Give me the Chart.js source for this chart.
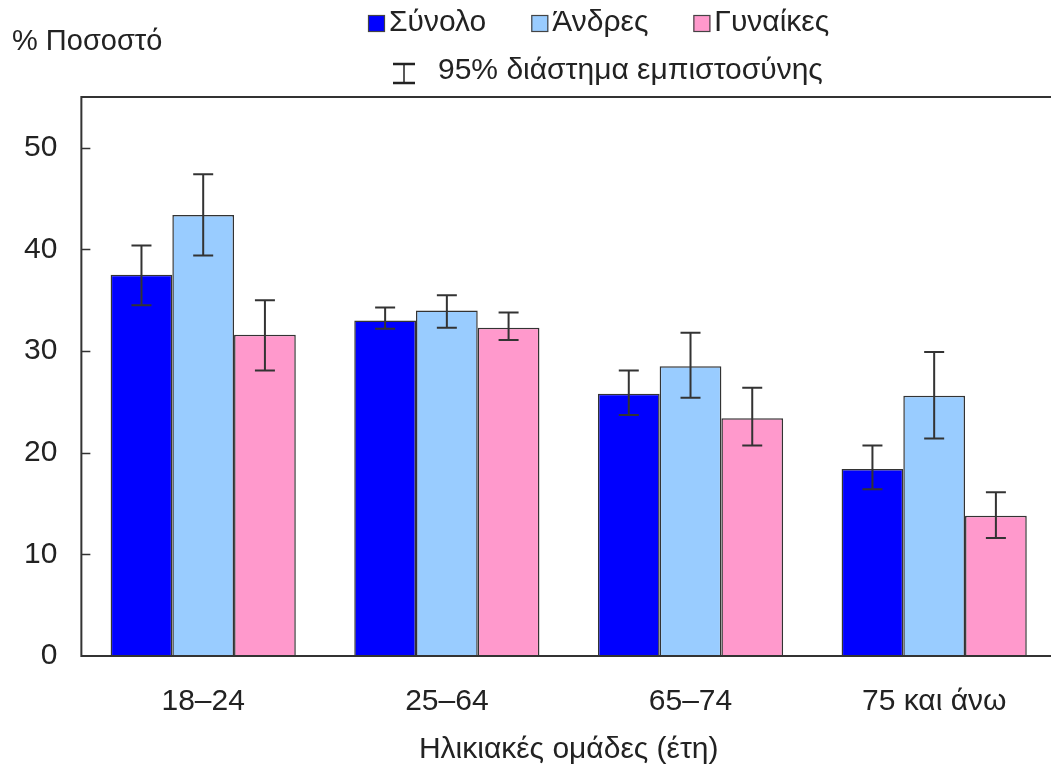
<!DOCTYPE html>
<html>
<head>
<meta charset="utf-8">
<script src="https://cdn.jsdelivr.net/npm/chart.js@4"></script>
<style>
  html, body { margin: 0; padding: 0; background: #fff; overflow: hidden; }
  #wrap { width: 1058px; height: 774px; }
</style>
</head>
<body>
<div id="wrap"><canvas id="chart" width="1058" height="774"></canvas></div>
<script>
const categories = ['18–24', '25–64', '65–74', '75 και άνω'];
const seriesNames = ['Σύνολο', 'Άνδρες', 'Γυναίκες'];
const seriesColors = ['#0000ff', '#99ccff', '#ff99cc'];

// values (%) and 95% CI bounds
const totalValues = [37.5, 33.0, 25.8, 18.4];
const totalLow = [34.5, 32.2, 23.7, 16.4];
const totalHigh = [40.4, 34.3, 28.1, 20.7];

const menValues = [43.4, 34.0, 28.5, 25.6];
const menLow = [39.4, 32.3, 25.4, 21.4];
const menHigh = [47.4, 35.5, 31.8, 29.9];

const womenValues = [31.6, 32.3, 23.4, 13.8];
const womenLow = [28.1, 31.1, 20.7, 11.6];
const womenHigh = [35.0, 33.8, 26.4, 16.1];

const yTicks = [0, 10, 20, 30, 40, 50];

const FONT = '"Liberation Sans", Arial, sans-serif';
const TEXT = '#222';

const lows = [totalLow, menLow, womenLow];
const highs = [totalHigh, menHigh, womenHigh];

// error bars, frame, inward ticks, legend, y title
const extras = {
  id: 'extras',
  afterDatasetsDraw(chart) {
    const ctx = chart.ctx;
    const y = chart.scales.y;
    ctx.save();
    ctx.strokeStyle = '#333';
    ctx.lineWidth = 2;
    chart.data.datasets.forEach((ds, i) => {
      const meta = chart.getDatasetMeta(i);
      meta.data.forEach((bar, j) => {
        const top = y.getPixelForValue(highs[i][j]);
        const bot = y.getPixelForValue(lows[i][j]);
        ctx.beginPath();
        ctx.moveTo(bar.x, top); ctx.lineTo(bar.x, bot);
        ctx.moveTo(bar.x - 10, top); ctx.lineTo(bar.x + 10, top);
        ctx.moveTo(bar.x - 10, bot); ctx.lineTo(bar.x + 10, bot);
        ctx.stroke();
      });
    });
    ctx.restore();
  },
  afterDraw(chart) {
    const ctx = chart.ctx;
    const a = chart.chartArea;
    const y = chart.scales.y;
    ctx.save();
    // frame
    ctx.strokeStyle = '#333';
    ctx.lineWidth = 2;
    ctx.strokeRect(a.left, a.top, a.right - a.left, a.bottom - a.top);
    // inward tick marks
    ctx.lineWidth = 1.5;
    yTicks.forEach(v => {
      if (v === 0) return;
      const py = Math.round(y.getPixelForValue(v)) + 0.5;
      ctx.beginPath();
      ctx.moveTo(a.left, py);
      ctx.lineTo(a.left + 9, py);
      ctx.stroke();
    });

    ctx.fillStyle = TEXT;
    ctx.font = '29px ' + FONT;
    ctx.textBaseline = 'middle';
    ctx.textAlign = 'left';
    ctx.fillText('% Ποσοστό', 12, 42);

    // legend, line 1
    ctx.font = '30px ' + FONT;
    let x = 368;
    seriesNames.forEach((name, i) => {
      ctx.fillStyle = seriesColors[i];
      ctx.fillRect(x, 15, 17, 17);
      ctx.strokeStyle = '#444';
      ctx.lineWidth = 1.2;
      ctx.strokeRect(x + 0.5, 15.5, 16, 16);
      ctx.fillStyle = TEXT;
      ctx.fillText(name, x + 21, 23);
      x += 21 + ctx.measureText(name).width + 45;
    });

    // legend, line 2
    ctx.strokeStyle = '#222';
    ctx.lineWidth = 1.5;
    ctx.beginPath();
    ctx.moveTo(404, 64); ctx.lineTo(404, 83);
    ctx.stroke();
    ctx.lineWidth = 2.5;
    ctx.beginPath();
    ctx.moveTo(393, 64); ctx.lineTo(415, 64);
    ctx.moveTo(393, 83); ctx.lineTo(415, 83);
    ctx.stroke();
    ctx.fillText('95% διάστημα εμπιστοσύνης', 438, 71);
    ctx.restore();
  }
};

const datasetValues = [totalValues, menValues, womenValues];

new Chart(document.getElementById('chart'), {
  type: 'bar',
  data: {
    labels: categories,
    datasets: seriesNames.map((name, i) => ({
      label: name,
      data: datasetValues[i],
      backgroundColor: seriesColors[i],
      borderColor: '#333',
      borderWidth: 1.5,
      categoryPercentage: 0.76,
      barPercentage: 1.0
    }))
  },
  options: {
    responsive: false,
    animation: false,
    layout: { padding: { top: 97, left: 0, right: 2, bottom: 6 } },
    plugins: {
      legend: { display: false },
      title: { display: false },
      tooltip: { enabled: false }
    },
    scales: {
      x: {
        grid: { display: false, drawTicks: false },
        border: { display: false },
        ticks: { color: TEXT, font: { family: FONT, size: 30 }, padding: 28 },
        title: {
          display: true,
          text: 'Ηλικιακές ομάδες (έτη)',
          color: TEXT,
          font: { family: FONT, size: 30 },
          padding: { top: -16, bottom: 0 }
        }
      },
      y: {
        min: 0,
        max: 55,
        grid: { display: false, drawTicks: false },
        border: { display: false },
        ticks: {
          stepSize: 10,
          includeBounds: false,
          color: TEXT,
          font: { family: FONT, size: 30 },
          padding: 24
        }
      }
    }
  },
  plugins: [extras]
});
</script>
</body>
</html>
